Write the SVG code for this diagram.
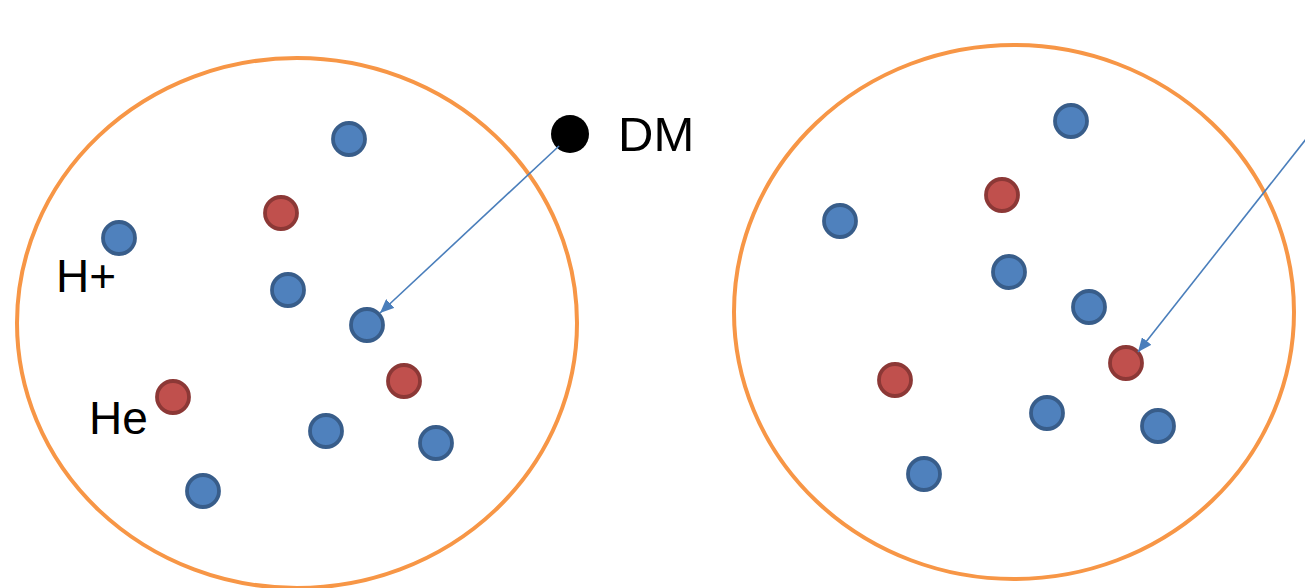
<svg xmlns="http://www.w3.org/2000/svg" width="1305" height="588" viewBox="0 0 1305 588">
  <style>
    .region { fill: none; stroke: #F79646; stroke-width: 4; }
    .h { fill: #4F81BD; stroke: #385D8A; stroke-width: 3.8; }
    .he { fill: #C0504D; stroke: #8C3836; stroke-width: 3.8; }
    .lbl { font-family: "Liberation Sans", Arial, sans-serif; font-size: 46px; fill: #000; }
    .lbl.big { font-size: 49px; }
    .link { stroke: #4A7EBB; stroke-width: 1.6; fill: none; marker-end: url(#tip); }
  </style>
  <defs>
    <marker id="tip" viewBox="0 0 14 12" refX="14" refY="6" markerWidth="14" markerHeight="12" markerUnits="userSpaceOnUse" orient="auto">
      <path d="M0,0 L14,6 L0,12 z" fill="#4A7EBB"/>
    </marker>
  </defs>
  <rect width="1305" height="588" fill="#fff"/>

  <g id="region-left">
    <ellipse class="region" cx="297" cy="323" rx="280" ry="265"/>
  </g>
  <g id="region-right">
    <ellipse class="region" cx="1014" cy="312" rx="280" ry="267"/>
  </g>

  <g id="particles-left">
    <circle class="h" cx="349" cy="139" r="16"/>
    <circle class="he" cx="281" cy="213" r="16"/>
    <circle class="h" cx="119" cy="238" r="16"/>
    <circle class="h" cx="288" cy="290" r="16"/>
    <circle class="h" cx="367" cy="325" r="16"/>
    <circle class="he" cx="404" cy="381" r="16"/>
    <circle class="he" cx="173" cy="397" r="16"/>
    <circle class="h" cx="326" cy="431" r="16"/>
    <circle class="h" cx="436" cy="443" r="16"/>
    <circle class="h" cx="203" cy="491" r="16"/>
  </g>
  <g id="particles-right">
    <circle class="h" cx="1071" cy="121" r="16"/>
    <circle class="he" cx="1002" cy="195" r="16"/>
    <circle class="h" cx="840" cy="221" r="16"/>
    <circle class="h" cx="1009" cy="272" r="16"/>
    <circle class="h" cx="1089" cy="307" r="16"/>
    <circle class="he" cx="1126" cy="363" r="16"/>
    <circle class="he" cx="895" cy="380" r="16"/>
    <circle class="h" cx="1047" cy="413" r="16"/>
    <circle class="h" cx="1158" cy="426" r="16"/>
    <circle class="h" cx="924" cy="474" r="16"/>
  </g>

  <g id="labels">
    <text class="lbl" x="56" y="292">H+</text>
    <text class="lbl" x="89" y="434">He</text>
  </g>

  <g id="dm">
    <circle cx="570" cy="134" r="19" fill="#000"/>
    <text class="lbl big" x="618" y="151">DM</text>
  </g>

  <g id="connectors">
    <line class="link" x1="559" y1="146" x2="380" y2="313"/>
    <line class="link" x1="1310" y1="134" x2="1138" y2="352"/>
  </g>
</svg>
